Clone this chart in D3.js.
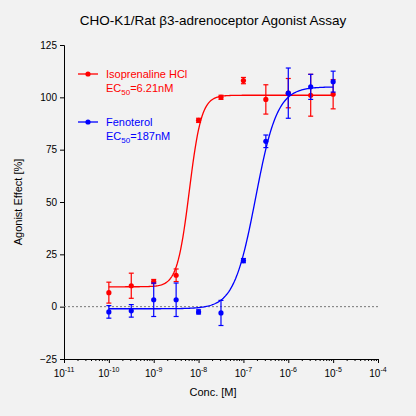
<!DOCTYPE html><html><head><script src="https://cdn.jsdelivr.net/npm/d3@7"></script>
<style>body{margin:0;background:#f2f2f2}svg{font-family:Arial,"Liberation Sans",sans-serif}</style></head><body><svg width="416" height="416"></svg><script>
const conc=[1e-10,3.16e-10,1e-9,3.16e-9,1e-8,3.16e-8,1e-7,3.16e-7,1e-6,3.16e-6,1e-5];
const isoY=[6.7,10,12,15,89,100,108,99,102,101,101.5];
const isoE=[5,6,1,3,1,1,1.5,7,7,10,7];
const fenY=[-2.5,-2,3.3,3.3,-2.5,-3,22,79,102,105,107.5];
const fenE=[3,3,8,8,1,6,1,3,12,6,5];
const iso={bottom:9.5,top:101,ec50:6.21e-9,hill:3.2};
const fen={bottom:-1,top:105,ec50:1.87e-7,hill:1.8};
const yTicks=[-25,0,25,50,75,100,125];
const xTicks=[-11,-10,-9,-8,-7,-6,-5,-4];
const svg=d3.select("svg");
svg.append("rect").attr("width",416).attr("height",416).attr("fill","#f2f2f2");
const x=d3.scaleLog().domain([1e-11,1e-4]).range([64,378]);
const y=d3.scaleLinear().domain([-25,125]).range([359,45]);
svg.append("text").attr("x",213).attr("y",25).attr("text-anchor","middle").attr("font-size",13.5).text("CHO-K1/Rat β3-adrenoceptor Agonist Assay");
const ya=svg.append("g").attr("transform","translate(64,0)").call(d3.axisLeft(y).tickValues(yTicks).tickSize(4));
ya.selectAll("text").attr("font-size",10);
const xa=svg.append("g").attr("transform","translate(0,359)").call(d3.axisBottom(x).tickValues(xTicks.map(e=>Math.pow(10,e))).tickFormat(()=>"").tickSize(4));
xTicks.forEach(e=>{const t=svg.append("text").attr("x",x(Math.pow(10,e))).attr("y",377).attr("text-anchor","middle").attr("font-size",10);t.append("tspan").text("10");t.append("tspan").attr("dy",-5).attr("font-size",7).text(e);});
const minor=[];for(let e=-11;e<-4;e++)for(let k=2;k<10;k++)minor.push(k*Math.pow(10,e));
svg.append("g").attr("transform","translate(0,359)").call(d3.axisBottom(x).tickValues(minor).tickFormat(()=>"").tickSize(2));
svg.selectAll(".domain").attr("stroke","#000");
svg.append("line").attr("x1",64).attr("x2",378).attr("y1",y(0)).attr("y2",y(0)).attr("stroke","#777").attr("stroke-dasharray","2,2");
svg.append("text").attr("x",213).attr("y",396).attr("text-anchor","middle").attr("font-size",11).text("Conc. [M]");
svg.append("text").attr("transform","translate(22,202) rotate(-90)").attr("text-anchor","middle").attr("font-size",11).text("Agonist Effect [%]");
function draw(Y,E,p,col){
 const f=c=>p.bottom+(p.top-p.bottom)/(1+Math.pow(p.ec50/c,p.hill));
 const pts=d3.range(0,201).map(i=>Math.pow(10,-10+5*i/200));
 svg.append("path").attr("d",d3.line().x(c=>x(c)).y(c=>y(f(c)))(pts)).attr("fill","none").attr("stroke",col).attr("stroke-width",1.3);
 conc.forEach((c,i)=>{const cx=x(c),g=svg.append("g").attr("stroke",col).attr("stroke-width",1.2);
  g.append("line").attr("x1",cx).attr("x2",cx).attr("y1",y(Y[i]-E[i])).attr("y2",y(Y[i]+E[i]));
  [Y[i]-E[i],Y[i]+E[i]].forEach(v=>g.append("line").attr("x1",cx-2.5).attr("x2",cx+2.5).attr("y1",y(v)).attr("y2",y(v)));
  svg.append("circle").attr("cx",cx).attr("cy",y(Y[i])).attr("r",2.6).attr("fill",col);});
}
draw(isoY,isoE,iso,"#ff0000");draw(fenY,fenE,fen,"#0000ff");
function leg(yy,col,name,ec){svg.append("line").attr("x1",78).attr("x2",98).attr("y1",yy).attr("y2",yy).attr("stroke",col).attr("stroke-width",1.3);
 svg.append("circle").attr("cx",88).attr("cy",yy).attr("r",2.6).attr("fill",col);
 svg.append("text").attr("x",106).attr("y",yy+4).attr("fill",col).attr("font-size",11).text(name);
 const t=svg.append("text").attr("x",106).attr("y",yy+18).attr("fill",col).attr("font-size",11);t.append("tspan").text("EC");t.append("tspan").attr("font-size",8).attr("dy",3).text("50");t.append("tspan").attr("dy",-3).text(ec);}
leg(74,"#ff0000","Isoprenaline HCl","=6.21nM");leg(122,"#0000ff","Fenoterol","=187nM");
</script></body></html>
